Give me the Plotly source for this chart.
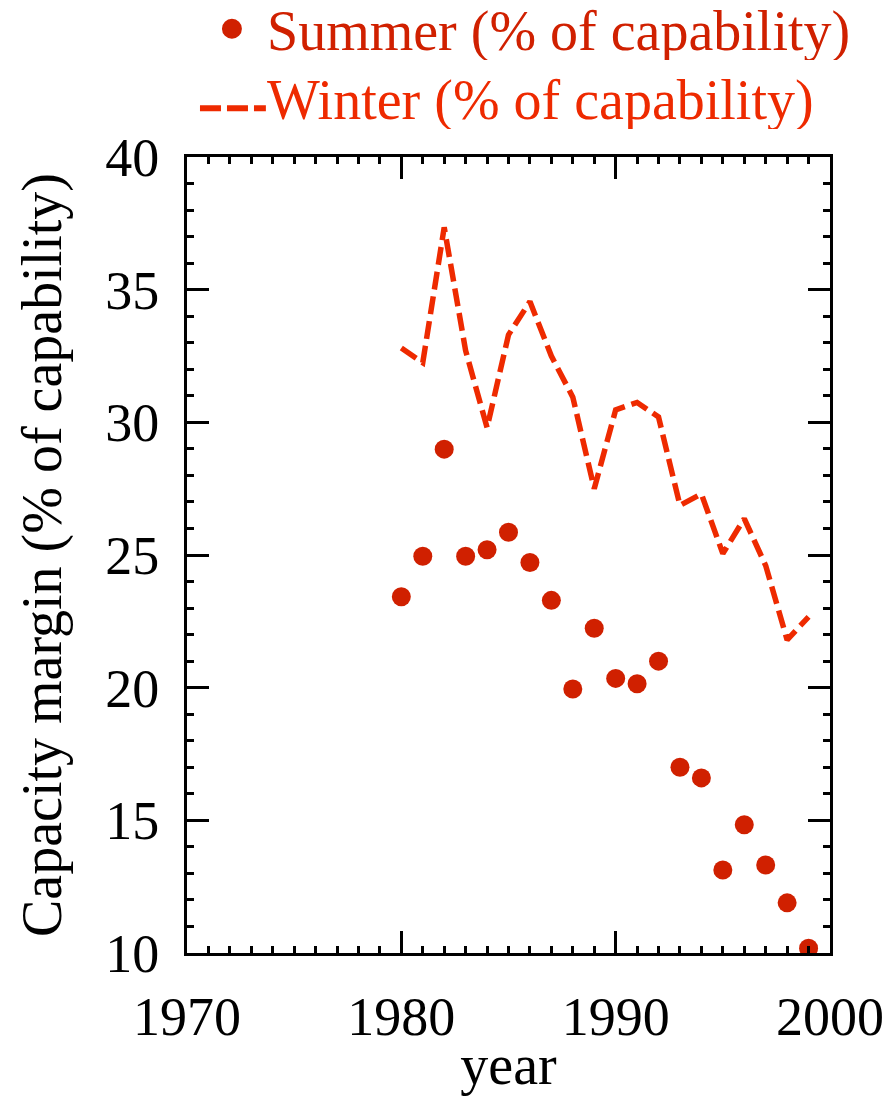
import plotly.graph_objects as go

years = list(range(1980, 2000))
summer = [23.43, 24.95, 28.99, 24.95, 25.2, 25.86, 24.72, 23.29, 19.95, 22.24,
          20.35, 20.15, 21.0, 17.0, 16.6, 13.13, 14.83, 13.32, 11.89, 10.18]
winter = [32.8, 32.25, 37.35, 32.7, 29.8, 33.3, 34.55, 32.5, 30.95, 27.5,
          30.47, 30.75, 30.2, 26.87, 27.3, 25.05, 26.37, 24.6, 21.8, 22.67]

x_ticks = [1970, 1980, 1990, 2000]
y_ticks = [10, 15, 20, 25, 30, 35, 40]

summer_label = "Summer (% of capability)"
winter_label = "Winter (% of capability)"

SUMMER_C = "#d02000"
WINTER_C = "#ee2a00"
FONT = "Liberation Serif, Times New Roman, Times, DejaVu Serif, serif"

# plot-area geometry (pixels) used to place the hand-drawn key in paper coords
L, R, T, B = 187, 831, 157, 958
W, H = R - L, B - T


def px(xp):
    return (xp - L) / W


def py(yp):
    return (B - yp) / H


fig = go.Figure()
fig.add_trace(go.Scatter(
    x=years, y=summer, mode="markers",
    marker=dict(color=SUMMER_C, size=19, line=dict(width=0)),
    name=summer_label, showlegend=False,
))
fig.add_trace(go.Scatter(
    x=years, y=winter, mode="lines",
    line=dict(color=WINTER_C, width=5.5, dash="18px,7px"),
    name=winter_label, showlegend=False,
))

axis_common = dict(
    showline=True, linecolor="black", linewidth=3, mirror="allticks",
    ticks="inside", ticklen=22, tickwidth=3, tickcolor="black",
    showgrid=False, zeroline=False,
    tickfont=dict(family=FONT, size=54, color="black"),
)

# key (legend) drawn in paper coordinates
shapes = [
    dict(type="circle", xref="paper", yref="paper",
         x0=px(222), x1=px(242), y0=py(38), y1=py(18),
         fillcolor=SUMMER_C, line=dict(width=0)),
    dict(type="line", xref="paper", yref="paper",
         x0=px(200), x1=px(266), y0=py(108), y1=py(108),
         line=dict(color=WINTER_C, width=6, dash="21px,6px")),
]
annotations = [
    dict(text=summer_label, xref="paper", yref="paper", x=px(266), y=py(30),
         xanchor="left", yanchor="middle", valign="middle", height=58,
         borderpad=0, showarrow=False,
         font=dict(family=FONT, size=56, color=SUMMER_C)),
    dict(text=winter_label, xref="paper", yref="paper", x=px(266), y=py(100),
         xanchor="left", yanchor="middle", valign="middle", height=58,
         borderpad=0, showarrow=False,
         font=dict(family=FONT, size=56, color=WINTER_C)),
]

fig.update_layout(
    width=896, height=1098,
    margin=dict(l=L, r=896 - R, t=T, b=1098 - B),
    paper_bgcolor="white", plot_bgcolor="white",
    font=dict(family=FONT, color="black"),
    showlegend=False,
    shapes=shapes,
    annotations=annotations,
    xaxis=dict(
        range=[1970, 2000], tickvals=x_ticks, ticktext=[str(v) for v in x_ticks],
        minor=dict(dtick=1, tick0=1970, ticks="inside", ticklen=7, tickwidth=3, tickcolor="black"),
        title=dict(text="year", font=dict(family=FONT, size=56, color="black"), standoff=0),
        ticklabelstandoff=14,
        **axis_common,
    ),
    yaxis=dict(
        range=[10, 40], tickvals=y_ticks, ticktext=[str(v) for v in y_ticks],
        minor=dict(dtick=1, tick0=10, ticks="inside", ticklen=7, tickwidth=3, tickcolor="black"),
        title=dict(text="Capacity margin (% of capability)", font=dict(family=FONT, size=56, color="black"), standoff=26),
        ticklabelstandoff=14,
        **axis_common,
    ),
)

fig.write_html("out.html")
